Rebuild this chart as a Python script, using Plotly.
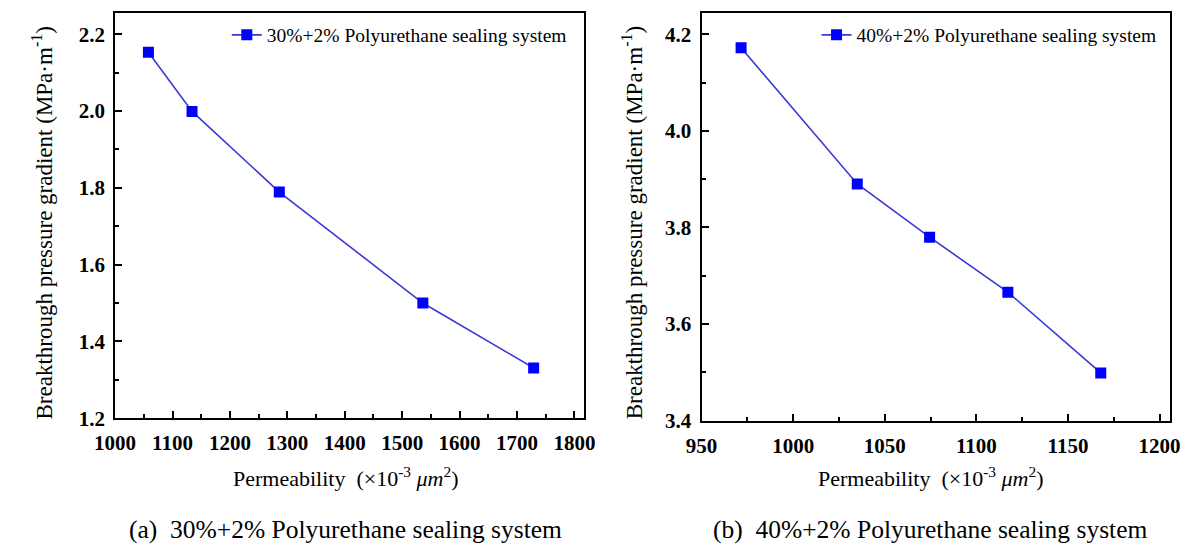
import plotly.graph_objects as go

# Data
perm_a = [1058, 1134, 1286, 1536, 1729]
grad_a = [2.153, 1.999, 1.789, 1.500, 1.331]
perm_b = [971.6, 1035, 1074.5, 1117.2, 1167.9]
grad_b = [4.172, 3.890, 3.780, 3.666, 3.499]
name_a = "30%+2% Polyurethane sealing system"
name_b = "40%+2% Polyurethane sealing system"
caption_a = "(a)  30%+2% Polyurethane sealing system"
caption_b = "(b)  40%+2% Polyurethane sealing system"
xtitle = "Permeability  (×10<sup>-3</sup> <i>μm</i><sup>2</sup>)"
ytitle = "Breakthrough pressure gradient (MPa·m<sup>-1</sup>)"

W, H = 1192, 556
FONT = "Liberation Serif"

def px(x):
    return x / W

def py(y):
    return (H - y) / H

fig = go.Figure()
line_style = dict(color="#3a3ad6", width=1.6)
marker_style = dict(symbol="square", size=11, color="#0000ff")

fig.add_trace(go.Scatter(x=perm_a, y=grad_a, mode="lines+markers", name=name_a,
                         line=line_style, marker=marker_style,
                         xaxis="x", yaxis="y", legend="legend"))
fig.add_trace(go.Scatter(x=perm_b, y=grad_b, mode="lines+markers", name=name_b,
                         line=line_style, marker=marker_style,
                         xaxis="x2", yaxis="y2", legend="legend2"))

axis_common = dict(showline=True, linecolor="black", linewidth=2, mirror=True,
                   ticks="inside", ticklen=7, tickwidth=2, tickcolor="black",
                   showgrid=False, zeroline=False,
                   tickfont=dict(family=FONT, size=21, color="black", weight="bold"))

fig.update_layout(
    width=W, height=H,
    margin=dict(l=0, r=0, t=0, b=0),
    paper_bgcolor="white", plot_bgcolor="white",
    showlegend=True,
    xaxis=dict(domain=[px(96.7), px(579)], range=[1000, 1817.5], dtick=100, tick0=1000,
               anchor="y", ticklabelstandoff=5,
               minor=dict(ticks="inside", ticklen=4, tickwidth=2, dtick=50, tickcolor="black"),
               **axis_common),
    yaxis=dict(domain=[py(427.5), py(13)], range=[1.2, 2.256], dtick=0.2, tick0=1.2,
               tickformat=".1f", anchor="x", ticklabelstandoff=4,
               minor=dict(ticks="inside", ticklen=4, tickwidth=2, dtick=0.1, tickcolor="black"),
               **axis_common),
    xaxis2=dict(domain=[px(699.3), px(1180.7)], range=[950, 1205.7], dtick=50, tick0=950,
                anchor="y2", ticklabelstandoff=5,
                minor=dict(ticks="inside", ticklen=4, tickwidth=2, dtick=25, tickcolor="black"),
                **axis_common),
    yaxis2=dict(domain=[py(430), py(13)], range=[3.4, 4.2446], dtick=0.2, tick0=3.4,
                tickformat=".1f", anchor="x2", ticklabelstandoff=4,
                minor=dict(ticks="inside", ticklen=4, tickwidth=2, dtick=0.1, tickcolor="black"),
                **axis_common),
    legend=dict(x=px(566), y=py(16), xanchor="right", yanchor="top",
                bgcolor="rgba(0,0,0,0)", borderwidth=0,
                font=dict(family=FONT, size=19.5, color="black")),
    legend2=dict(x=px(1172), y=py(16), xanchor="right", yanchor="top",
                 bgcolor="rgba(0,0,0,0)", borderwidth=0,
                 font=dict(family=FONT, size=19.5, color="black")),
)

annots = [
    dict(text=xtitle, x=px(333), y=py(488), font_size=22),
    dict(text=xtitle, x=px(935), y=py(488), font_size=22),
    dict(text=ytitle, x=px(22), y=py(228), font_size=23, textangle=-90),
    dict(text=ytitle, x=px(628), y=py(228), font_size=23, textangle=-90),
    dict(text=caption_a, x=px(333), y=py(541), font_size=25.5),
    dict(text=caption_b, x=px(935), y=py(541), font_size=25.5),
]
for a in annots:
    fs = a.pop("font_size")
    fig.add_annotation(xref="paper", yref="paper", showarrow=False,
                       xanchor="center", yanchor="middle",
                       font=dict(family=FONT, size=fs, color="black"), **a)

fig.write_html("out.html")
